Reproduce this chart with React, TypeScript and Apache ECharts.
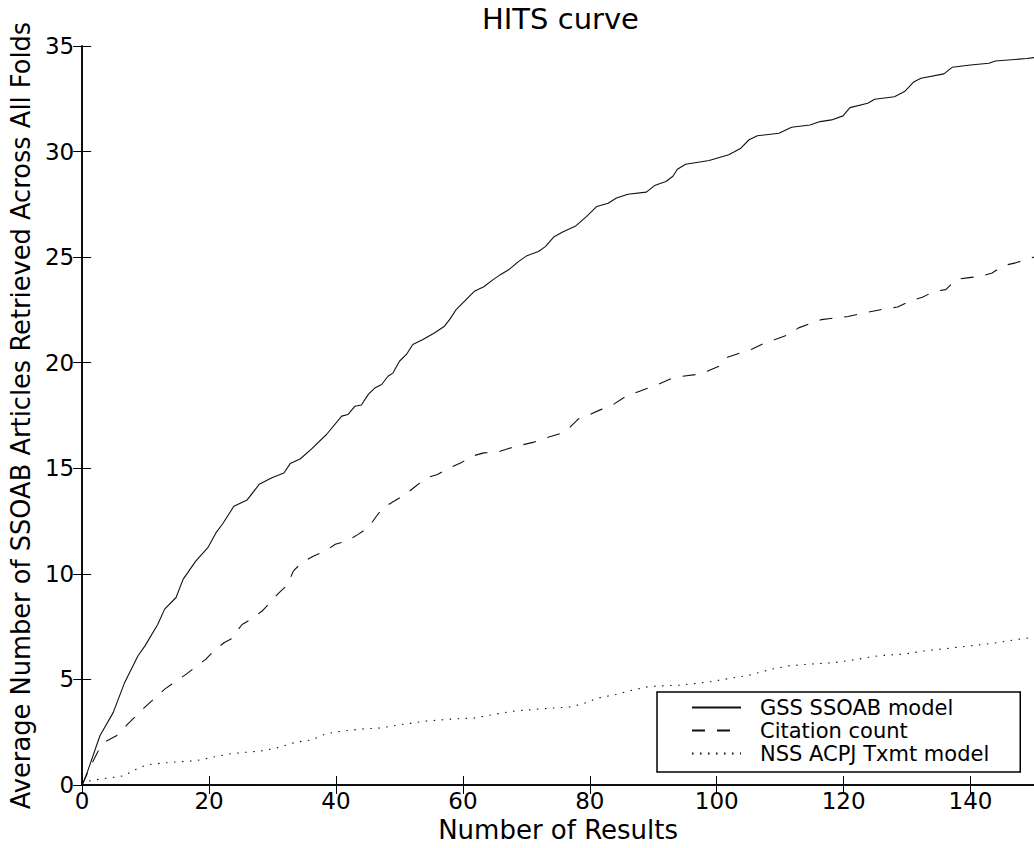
import React, { useEffect, useRef } from "react";
import * as echarts from "echarts";

const chartTitle = "HITS curve";
const xAxisName = "Number of Results";
const yAxisName = "Average Number of SSOAB Articles Retrieved Across All Folds";
const seriesNames = ["GSS SSOAB model", "Citation count", "NSS ACPJ Txmt model"];

const gssPoints: number[][] = [
  [0, 0], [0.8, 0.6], [2.8, 2.33], [4.9, 3.44], [6.7, 4.86], [8.8, 6.12], [9.9, 6.59], [11.9, 7.6],
  [13, 8.33], [14.8, 8.88], [15.9, 9.74], [17.9, 10.6], [19.8, 11.24], [21.1, 11.95], [22.1, 12.35],
  [23.9, 13.2], [26, 13.5], [27.9, 14.24], [29.9, 14.55], [31.8, 14.78], [32.8, 15.23], [34.4, 15.45],
  [36.2, 15.93], [38.5, 16.6], [40.9, 17.47], [41.9, 17.55], [43, 17.94], [44, 18.0], [45.1, 18.5],
  [46.1, 18.8], [47.2, 18.97], [48.2, 19.36], [49, 19.52], [50, 20.07], [51.1, 20.39], [52.1, 20.86],
  [53.7, 21.1], [55.5, 21.41], [57.1, 21.73], [57.9, 22.04], [58.9, 22.5], [60.5, 22.99], [61.8, 23.38],
  [63.3, 23.6], [64.6, 23.9], [65.9, 24.17], [67.2, 24.4], [68.8, 24.8], [70.1, 25.07], [71.9, 25.27],
  [73, 25.5], [74.3, 25.95], [75.8, 26.2], [77.7, 26.46], [79.5, 26.93], [81.1, 27.4], [82.9, 27.55],
  [84.2, 27.8], [86, 27.98], [88.9, 28.08], [90.2, 28.39], [92, 28.58], [93.1, 28.83], [93.8, 29.16],
  [95.1, 29.4], [98.8, 29.58], [101.9, 29.85], [103.8, 30.16], [105.1, 30.56], [106.4, 30.75],
  [109.8, 30.87], [111.8, 31.15], [114.7, 31.26], [116.3, 31.42], [118.1, 31.5], [119.9, 31.69],
  [121, 32.08], [123.8, 32.29], [124.9, 32.48], [128, 32.6], [129.6, 32.84], [131.1, 33.31],
  [132.2, 33.47], [135.8, 33.68], [137.1, 33.99], [140, 34.1], [142.9, 34.18], [143.9, 34.29],
  [148.9, 34.41], [150, 34.45],
];

const citationPoints: number[][] = [
  [0, 0], [1.5, 1.0], [2.55, 1.62], [3.9, 2.1], [5.4, 2.33], [7.2, 2.89], [10.1, 3.75], [13, 4.54],
  [16.4, 5.25], [19.5, 5.96], [20.5, 6.28], [22.4, 6.75], [23.4, 6.9], [25.2, 7.6], [26.6, 7.85],
  [28.4, 8.25], [31, 9.1], [32.3, 9.46], [33.3, 10.14], [34.6, 10.53], [36.5, 10.85], [38.3, 11.08],
  [39.9, 11.4], [41.7, 11.56], [43.5, 11.87], [45.1, 12.19], [46.4, 12.74], [47.4, 13.13], [49.2, 13.45],
  [51.1, 13.8], [52.6, 14.16], [54.2, 14.55], [56, 14.71], [57.9, 15.02], [59.7, 15.26], [61.5, 15.58],
  [63.3, 15.73], [65.4, 15.76], [67.2, 15.94], [69.1, 16.09], [71.2, 16.24], [73.2, 16.45], [75.3, 16.64],
  [76.6, 16.87], [78.2, 17.34], [80, 17.55], [81.8, 17.79], [83.7, 18.02], [85.5, 18.37], [87.1, 18.57],
  [89.2, 18.8], [91, 19], [92.8, 19.24], [94.6, 19.36], [96.7, 19.44], [98.5, 19.6], [100.4, 19.84],
  [101.7, 20.26], [103.8, 20.47], [105.6, 20.65], [107.4, 20.91], [109.2, 21.1], [111.3, 21.33],
  [112.9, 21.65], [115, 21.88], [116.5, 22.04], [118.6, 22.12], [120.7, 22.19], [122.8, 22.33],
  [124.6, 22.44], [126.7, 22.56], [128.5, 22.64], [130.6, 22.94], [132.4, 23.1], [134.3, 23.38],
  [136.1, 23.46], [137.7, 23.94], [139.5, 24.02], [141.6, 24.09], [143.4, 24.25], [145.2, 24.6],
  [147.1, 24.73], [150, 25.0],
];

const nssPoints: number[][] = [
  [0, 0], [1.25, 0.2], [2.8, 0.28], [4.9, 0.36], [6.7, 0.44], [8, 0.68], [10.1, 0.95], [12.7, 1.04],
  [15.3, 1.1], [17.9, 1.15], [20.5, 1.31], [23.2, 1.47], [25.8, 1.55], [28.4, 1.62], [31, 1.78],
  [33.6, 2.02], [36.2, 2.14], [38.3, 2.41], [40.1, 2.52], [44, 2.65], [47, 2.7], [50, 2.85], [54, 3.02],
  [58, 3.12], [62, 3.18], [65, 3.35], [68, 3.5], [72, 3.6], [77, 3.7], [79, 3.85], [81.1, 4.1],
  [84.2, 4.3], [86.3, 4.46], [89.4, 4.67], [94.1, 4.73], [98.3, 4.86], [101.9, 5.04], [105.1, 5.2],
  [108.7, 5.49], [111.3, 5.64], [114.4, 5.72], [118.6, 5.8], [122.3, 5.96], [125.4, 6.12], [129.6, 6.2],
  [132.7, 6.35], [136.4, 6.47], [140, 6.59], [143.7, 6.72], [146.8, 6.87], [150, 7.0],
];

const xMin = 0;
const xMax = 150;
const xInterval = 20;
const yMin = 0;
const yMax = 35;
const yInterval = 5;

const FONT = "DejaVu Sans";

export default function App() {
  const ref = useRef<HTMLDivElement>(null);
  useEffect(() => {
    if (!ref.current) return;
    const chart = echarts.init(ref.current, undefined, { renderer: "svg" });
    const axisLine = { show: true, lineStyle: { color: "#000", width: 1.5 } };
    const tick = { show: true, inside: true, length: 9, lineStyle: { color: "#000", width: 1 } };
    const lineSeries = (name: string, data: number[][], type: any) => ({
      name,
      type: "line",
      data,
      symbol: "none",
      xAxisIndex: 0,
      yAxisIndex: 0,
      lineStyle: { color: "#111", width: 1.1, type },
      itemStyle: { color: "#111" },
    });
    chart.setOption({
      animation: false,
      backgroundColor: "#fff",
      title: {
        text: chartTitle,
        left: 482,
        top: 4,
        padding: 0,
        textStyle: { fontFamily: FONT, fontSize: 29, fontWeight: "normal", color: "#000" },
      },
      grid: { left: 82, top: 46, right: -7, bottom: 62, containLabel: false },
      legend: {
        orient: "vertical",
        left: 657,
        top: 692,
        padding: [4, 31, 7, 34],
        itemWidth: 49,
        itemHeight: 10,
        itemGap: 0,
        borderColor: "#000",
        borderWidth: 1.5,
        borderRadius: 0,
        backgroundColor: "#fff",
        data: seriesNames,
        itemStyle: { opacity: 0, borderWidth: 0 },
        textStyle: {
          fontFamily: FONT,
          fontSize: 21,
          lineHeight: 23,
          color: "#000",
          padding: [0, 0, 0, 14],
        },
      },
      xAxis: [
        {
          type: "value",
          min: xMin,
          max: xMax,
          interval: xInterval,
          position: "bottom",
          name: xAxisName,
          nameLocation: "middle",
          nameGap: 32,
          nameTextStyle: { fontFamily: FONT, fontSize: 26, color: "#000" },
          axisLine,
          axisTick: tick,
          splitLine: { show: false },
          axisLabel: {
            fontFamily: FONT,
            fontSize: 23,
            color: "#000",
            margin: 4,
            showMaxLabel: false,
          },
        },
        {
          type: "value",
          min: xMin,
          max: xMax,
          interval: xInterval,
          position: "top",
          axisLine,
          axisTick: tick,
          splitLine: { show: false },
          axisLabel: { show: false },
        },
      ],
      yAxis: [
        {
          type: "value",
          min: yMin,
          max: yMax,
          interval: yInterval,
          position: "left",
          name: yAxisName,
          nameLocation: "middle",
          nameGap: 44,
          nameTextStyle: { fontFamily: FONT, fontSize: 25.7, color: "#000" },
          axisLine,
          axisTick: tick,
          splitLine: { show: false },
          axisLabel: { fontFamily: FONT, fontSize: 23, color: "#000", margin: 8 },
        },
        {
          type: "value",
          min: yMin,
          max: yMax,
          interval: yInterval,
          position: "right",
          axisLine,
          axisTick: tick,
          splitLine: { show: false },
          axisLabel: { show: false },
        },
      ],
      series: [
        lineSeries(seriesNames[0], gssPoints, "solid"),
        lineSeries(seriesNames[1], citationPoints, [13, 12]),
        lineSeries(seriesNames[2], nssPoints, [1.5, 6.5]),
      ],
    });
    return () => chart.dispose();
  }, []);
  return (
    <div
      ref={ref}
      style={{ position: "absolute", left: 0, top: 0, width: 1034, height: 848, background: "#fff" }}
    />
  );
}
